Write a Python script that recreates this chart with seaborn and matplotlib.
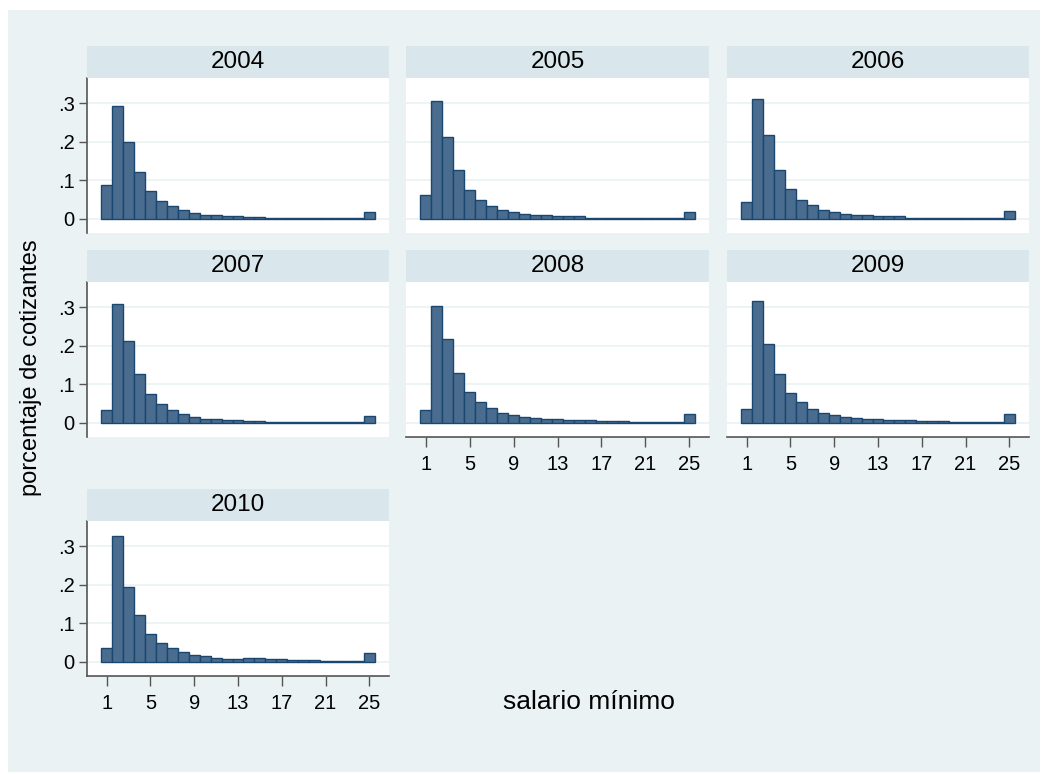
import numpy as np
import pandas as pd
import matplotlib
matplotlib.use("Agg")
import matplotlib.pyplot as plt
import seaborn as sns
from matplotlib.patches import Rectangle

sns.set_style("white")
plt.rcParams['font.family'] = ['Liberation Sans', 'DejaVu Sans']
plt.rcParams['text.color'] = 'black'
plt.rcParams['xtick.color'] = 'black'
plt.rcParams['ytick.color'] = 'black'

# ---- data ----
bins = list(range(1, 26))
years = ["2004", "2005", "2006", "2007", "2008", "2009", "2010"]
v2004 = [0.089, 0.293, 0.199, 0.121, 0.071, 0.046, 0.032, 0.022, 0.015, 0.011, 0.009, 0.007, 0.006,
         0.004, 0.004, 0.002, 0.002, 0.002, 0.001, 0.001, 0.001, 0.001, 0.001, 0.001, 0.017]
v2005 = [0.061, 0.305, 0.213, 0.127, 0.075, 0.048, 0.034, 0.023, 0.017, 0.013, 0.010, 0.009, 0.007,
         0.006, 0.006, 0.003, 0.003, 0.003, 0.002, 0.002, 0.002, 0.002, 0.002, 0.002, 0.018]
v2006 = [0.043, 0.311, 0.217, 0.127, 0.077, 0.050, 0.035, 0.024, 0.017, 0.013, 0.011, 0.009, 0.008,
         0.008, 0.006, 0.003, 0.003, 0.003, 0.002, 0.002, 0.002, 0.002, 0.002, 0.002, 0.019]
v2007 = [0.033, 0.308, 0.212, 0.126, 0.075, 0.049, 0.034, 0.022, 0.016, 0.010, 0.009, 0.007, 0.006,
         0.004, 0.004, 0.002, 0.002, 0.002, 0.001, 0.001, 0.001, 0.001, 0.001, 0.001, 0.017]
v2008 = [0.034, 0.304, 0.218, 0.129, 0.081, 0.054, 0.038, 0.026, 0.021, 0.016, 0.013, 0.011, 0.010,
         0.008, 0.007, 0.007, 0.004, 0.004, 0.004, 0.003, 0.003, 0.003, 0.003, 0.003, 0.022]
v2009 = [0.036, 0.316, 0.204, 0.127, 0.078, 0.053, 0.037, 0.026, 0.021, 0.016, 0.013, 0.011, 0.010,
         0.008, 0.007, 0.007, 0.004, 0.004, 0.004, 0.003, 0.003, 0.003, 0.003, 0.003, 0.022]
v2010 = [0.035, 0.328, 0.194, 0.121, 0.073, 0.049, 0.035, 0.025, 0.018, 0.014, 0.011, 0.008, 0.006,
         0.009, 0.009, 0.006, 0.006, 0.005, 0.005, 0.005, 0.003, 0.003, 0.003, 0.003, 0.022]
values = [v2004, v2005, v2006, v2007, v2008, v2009, v2010]
ytick_vals = [0, 0.1, 0.2, 0.3]
ytick_labels = ["0", ".1", ".2", ".3"]
xtick_vals = [1, 5, 9, 13, 17, 21, 25]
ylabel = "porcentaje de cotizantes"
xlabel = "salario mínimo"

df = pd.DataFrame({
    "year": np.repeat(years, len(bins)),
    "bin": bins * len(years),
    "value": np.concatenate(values),
})

# ---- style ----
BG = "#eaf2f3"
STRIP = "#d9e6eb"
FILL = "#4a6d8f"
EDGE = "#1a476f"
AXC = "#555555"
TICK_FS = 14.5
TITLE_FS = 17.5
XLABEL_FS = 19
YLABEL_FS = 17

W, H = 1048, 774
fig = plt.figure(figsize=(W / 100, H / 100), dpi=100, facecolor="white")
fig.patches.append(Rectangle((8 / W, 1 - 772 / H), (1040 - 8) / W, (772 - 10) / H,
                             transform=fig.transFigure, facecolor=BG, edgecolor="none", zorder=-10))

cols = [(87, 389), (406, 709), (727, 1029)]
rows = [(78, 233), (282, 437), (521, 676)]
strip_h = 32

layout = {"2004": (0, 0), "2005": (0, 1), "2006": (0, 2),
          "2007": (1, 0), "2008": (1, 1), "2009": (1, 2), "2010": (2, 0)}
xaxis_panels = {"2008", "2009", "2010"}

for yr in years:
    r, c = layout[yr]
    x0, x1 = cols[c]
    y0, y1 = rows[r]
    ax = fig.add_axes([x0 / W, 1 - y1 / H, (x1 - x0) / W, (y1 - y0) / H])
    ax.set_facecolor("white")
    sub = df[df["year"] == yr]
    sns.histplot(data=sub, x="bin", weights="value", discrete=True, ax=ax,
                 color=FILL, edgecolor=EDGE, alpha=1, linewidth=1.0, zorder=3)
    ax.set_xlim(-0.8, 26.8)
    ax.set_ylim(-0.037, 0.366)
    ax.set_xlabel("")
    ax.set_ylabel("")
    for yv in ytick_vals:
        ax.axhline(yv, color=BG, lw=1.2, zorder=1)
    for s in ["top", "right"]:
        ax.spines[s].set_visible(False)
    # y axis
    if c == 0:
        ax.spines["left"].set_visible(True)
        ax.spines["left"].set_color(AXC)
        ax.spines["left"].set_linewidth(1.2)
        ax.set_yticks(ytick_vals)
        ax.set_yticklabels(ytick_labels)
        ax.tick_params(axis="y", length=6, width=1, color=AXC, labelcolor="black",
                       pad=3, labelsize=TICK_FS, left=True)
    else:
        ax.spines["left"].set_visible(False)
        ax.set_yticks([])
    # x axis
    if yr in xaxis_panels:
        ax.spines["bottom"].set_visible(True)
        ax.spines["bottom"].set_color(AXC)
        ax.spines["bottom"].set_linewidth(1.2)
        ax.set_xticks(xtick_vals)
        ax.set_xticklabels([str(v) for v in xtick_vals])
        ax.tick_params(axis="x", length=7, width=1, color=AXC, labelcolor="black",
                       pad=6, labelsize=TICK_FS, bottom=True)
    else:
        ax.spines["bottom"].set_visible(False)
        ax.set_xticks([])
    # strip
    sax = fig.add_axes([x0 / W, 1 - y0 / H, (x1 - x0) / W, strip_h / H])
    sax.set_facecolor(STRIP)
    sax.set_xticks([])
    sax.set_yticks([])
    for s in sax.spines.values():
        s.set_visible(False)
    sax.text(0.5, 0.5, yr, ha="center", va="center", fontsize=TITLE_FS, color="black",
             transform=sax.transAxes)

fig.text(31 / W, 1 - 368 / H, ylabel, rotation=90, ha="center", va="center",
         fontsize=YLABEL_FS, color="black")
fig.text(589 / W, 1 - 702 / H, xlabel, ha="center", va="center",
         fontsize=XLABEL_FS, color="black")

fig.savefig("out.png", dpi=100, facecolor="white")
